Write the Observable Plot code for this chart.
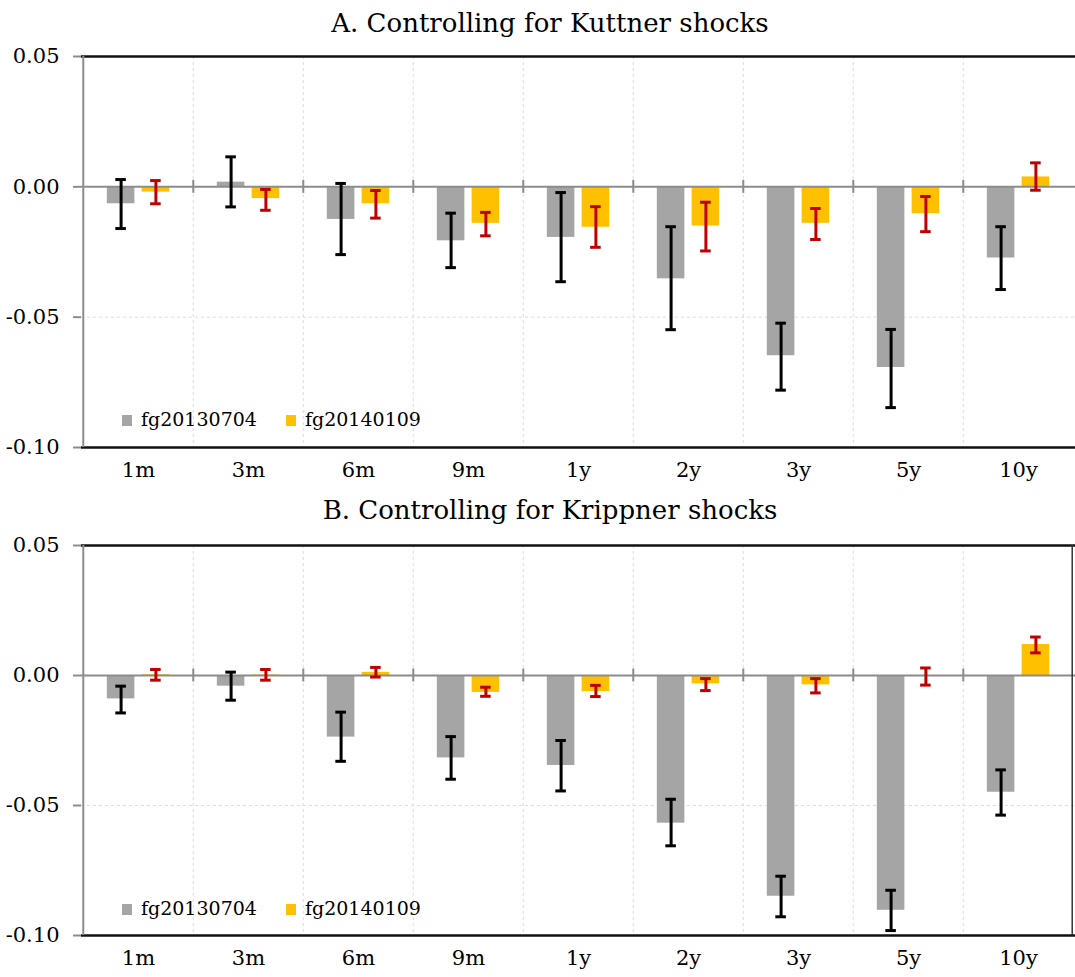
<!DOCTYPE html>
<html>
<head>
<meta charset="utf-8">
<script src="https://cdn.jsdelivr.net/npm/d3@7"></script>
<script src="https://cdn.jsdelivr.net/npm/@observablehq/plot@0.6"></script>
<style>
  html, body { margin: 0; padding: 0; background: #fff; }
  #root { position: relative; width: 1075px; height: 977px; font-family: "DejaVu Serif", serif; color: #000; }
  .title { position: absolute; left: 550px; transform: translateX(-50%); white-space: nowrap; font-size: 26px; line-height: 26px; }
  .panel { position: absolute; left: 0; }
  .legend { position: absolute; font-size: 19px; line-height: 19px; white-space: nowrap; }
  .sw { position: absolute; width: 10px; height: 11px; }
  .lt { position: absolute; }
</style>
</head>
<body>
<div id="root"></div>
<script>
// ---------- data ----------
const categories = ["1m", "3m", "6m", "9m", "1y", "2y", "3y", "5y", "10y"];
const seriesNames = ["fg20130704", "fg20140109"];
const yTicks = [0.05, 0.00, -0.05, -0.10];
const titles = ["A. Controlling for Kuttner shocks", "B. Controlling for Krippner shocks"];

// Panel A: Controlling for Kuttner shocks
const a_fg2013    = [-0.0065,  0.0018, -0.0125, -0.0207, -0.0194, -0.0353, -0.0648, -0.0693, -0.0273];
const a_fg2013_lo = [-0.0160, -0.0077, -0.0260, -0.0310, -0.0364, -0.0548, -0.0780, -0.0847, -0.0394];
const a_fg2013_hi = [ 0.0028,  0.0115,  0.0013, -0.0101, -0.0022, -0.0153, -0.0523, -0.0547, -0.0153];
const a_fg2014    = [-0.0020, -0.0045, -0.0065, -0.0140, -0.0155, -0.0150, -0.0140, -0.0103,  0.0038];
const a_fg2014_lo = [-0.0065, -0.0090, -0.0120, -0.0188, -0.0232, -0.0246, -0.0202, -0.0172, -0.0013];
const a_fg2014_hi = [ 0.0024, -0.0010, -0.0014, -0.0098, -0.0076, -0.0059, -0.0083, -0.0037,  0.0092];

// Panel B: Controlling for Krippner shocks
const b_fg2013    = [-0.0090, -0.0041, -0.0237, -0.0317, -0.0346, -0.0568, -0.0849, -0.0903, -0.0449];
const b_fg2013_lo = [-0.0144, -0.0095, -0.0330, -0.0399, -0.0444, -0.0655, -0.0928, -0.0981, -0.0537];
const b_fg2013_hi = [-0.0041,  0.0013, -0.0141, -0.0235, -0.0250, -0.0476, -0.0772, -0.0826, -0.0363];
const b_fg2014    = [ 0.0003,  0.0002,  0.0012, -0.0065, -0.0062, -0.0032, -0.0036, -0.0004,  0.0119];
const b_fg2014_lo = [-0.0018, -0.0018, -0.0006, -0.0080, -0.0081, -0.0058, -0.0067, -0.0037,  0.0087];
const b_fg2014_hi = [ 0.0023,  0.0023,  0.0031, -0.0045, -0.0038, -0.0012, -0.0012,  0.0029,  0.0148];

// ---------- styling ----------
const colors = {bar: ["#a5a5a5", "#ffc000"], err: ["#000000", "#c00000"]};
const W = 1075, ML = 81, MR = 0, MT = 16, MB = 40;
const bw = (W - ML - MR) / categories.length;   // band width
const off = 17.4;    // bar centre offset from band centre
const barHalf = 14;  // half bar width
const capHalf = 5.5; // half cap width

function rows(vals, lo, hi) {
  return categories.map((c, i) => ({cat: c, v: vals[i], lo: lo[i], hi: hi[i]}));
}

function seriesMarks(data, k) {
  const sign = k === 0 ? -1 : 1;
  const centre = bw / 2 + sign * off;
  return [
    Plot.barY(data, {x: "cat", y: "v", fill: colors.bar[k],
      insetLeft: centre - barHalf, insetRight: bw - centre - barHalf})
  ];
}
function errMarks(data, k) {
  const sign = k === 0 ? -1 : 1;
  const centre = bw / 2 + sign * off;
  const common = {stroke: colors.err[k], strokeWidth: 3};
  return [
    Plot.ruleX(data, {x: "cat", y1: "lo", y2: "hi", dx: sign * off, ...common}),
    Plot.tickY(data, {x: "cat", y: "lo", insetLeft: centre - capHalf, insetRight: bw - centre - capHalf, ...common}),
    Plot.tickY(data, {x: "cat", y: "hi", insetLeft: centre - capHalf, insetRight: bw - centre - capHalf, ...common})
  ];
}

function panel(s1, s2, rightBorder, innerH) {
  return Plot.plot({
    width: W,
    height: MT + innerH + MB,
    marginLeft: ML, marginRight: MR, marginTop: MT, marginBottom: MB,
    style: {fontFamily: "DejaVu Serif, serif", fontSize: "21px", color: "#000", background: "#fff", overflow: "visible"},
    x: {type: "band", domain: categories, padding: 0, label: null},
    y: {domain: [-0.10, 0.05], label: null},
    marks: [
      // gridlines
      Plot.ruleY([-0.05], {stroke: "#dcdcdc", strokeWidth: 1, strokeDasharray: "3,3"}),
      Plot.ruleX(categories.slice(1), {x: d => d, dx: -bw / 2, stroke: "#dcdcdc", strokeWidth: 1, strokeDasharray: "3,3"}),
      // bars
      ...seriesMarks(s1, 0),
      ...seriesMarks(s2, 1),
      // zero line + category boundary ticks
      Plot.ruleY([0], {stroke: "#8c8c8c", strokeWidth: 2}),
      Plot.ruleX(categories.slice(1), {x: d => d, dx: -bw / 2, y1: () => -0.0025, y2: () => 0.0025, stroke: "#8c8c8c", strokeWidth: 2}),
      // error bars
      ...errMarks(s1, 0),
      ...errMarks(s2, 1),
      // frame
      Plot.ruleY([0.05], {stroke: "#111", strokeWidth: 2.5}),
      Plot.ruleY([-0.10], {stroke: "#111", strokeWidth: 2.5}),
      Plot.ruleX([categories[0]], {x: d => d, dx: -bw / 2, stroke: "#8c8c8c", strokeWidth: 2}),
      ...(rightBorder ? [Plot.ruleX([categories[categories.length - 1]], {x: d => d, dx: bw / 2 - 1.5, stroke: "#333", strokeWidth: 1.5})] : []),
      // axes
      Plot.axisY({ticks: yTicks, tickFormat: d => d.toFixed(2), tickSize: 8, tickPadding: 14, stroke: "#8c8c8c", strokeWidth: 2, fontSize: 21, fill: "#000"}),
      Plot.axisX({tickSize: 0, tickPadding: 15, fontSize: 21, fill: "#000"})
    ]
  });
}

const root = document.getElementById("root");
function addTitle(text, top) {
  const d = document.createElement("div");
  d.className = "title"; d.textContent = text; d.style.top = top + "px";
  root.appendChild(d);
}
function addLegend(baseline) {
  const lg = document.createElement("div");
  lg.className = "legend";
  lg.style.left = "0px"; lg.style.top = "0px";
  const swX = [122, 286], txX = [141, 305];
  seriesNames.forEach((n, k) => {
    const sw = document.createElement("div");
    sw.className = "sw"; sw.style.background = colors.bar[k];
    sw.style.left = swX[k] + "px"; sw.style.top = (baseline - 11) + "px";
    lg.appendChild(sw);
    const t = document.createElement("div");
    t.className = "lt"; t.textContent = n;
    t.style.left = txX[k] + "px"; t.style.top = (baseline - 16) + "px";
    lg.appendChild(t);
  });
  root.appendChild(lg);
}

addTitle(titles[0], 10);
const pA = panel(rows(a_fg2013, a_fg2013_lo, a_fg2013_hi), rows(a_fg2014, a_fg2014_lo, a_fg2014_hi), false, 391);
pA.classList.add("panel"); pA.style.position = "absolute"; pA.style.top = "40px";
root.appendChild(pA);
addLegend(426);

addTitle(titles[1], 497);
const pB = panel(rows(b_fg2013, b_fg2013_lo, b_fg2013_hi), rows(b_fg2014, b_fg2014_lo, b_fg2014_hi), true, 390);
pB.classList.add("panel"); pB.style.position = "absolute"; pB.style.top = "529px";
root.appendChild(pB);
addLegend(915);
</script>
</body>
</html>
